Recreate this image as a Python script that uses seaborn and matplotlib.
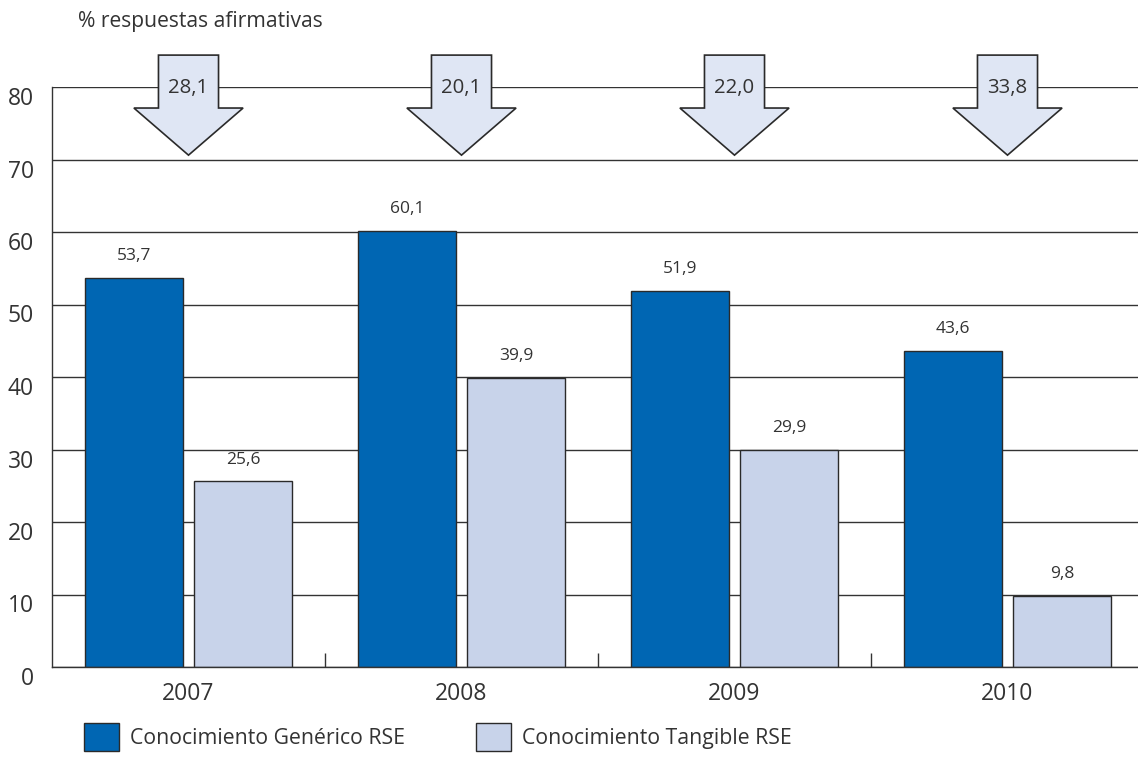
import pandas as pd
import matplotlib.pyplot as plt
from matplotlib.patches import Polygon
import seaborn as sns

# chart values
years = ['2007', '2008', '2009', '2010']
generico = [53.7, 60.1, 51.9, 43.6]
tangible = [25.6, 39.9, 29.9, 9.8]
brecha = [28.1, 20.1, 22.0, 33.8]
series = ['Conocimiento Genérico RSE', 'Conocimiento Tangible RSE']

data = pd.DataFrame({
    'year': years * 2,
    'serie': [series[0]] * 4 + [series[1]] * 4,
    'valor': generico + tangible,
})

sns.set_style('white')
plt.rcParams['font.family'] = ['Open Sans', 'DejaVu Sans']
plt.rcParams['text.color'] = '#333333'

fig = plt.figure(figsize=(11.38, 7.58), dpi=100)
ax = fig.add_axes([52 / 1138, 1 - 667 / 758, 1092 / 1138, 580 / 758])

sns.barplot(data=data, x='year', y='valor', hue='serie',
            palette=['#0066b3', '#c8d3ea'], saturation=1, width=0.8, gap=0.1,
            edgecolor='#2a2a2a', linewidth=1, ax=ax, legend=True)

ax.set_ylim(0, 80)
ax.set_xlim(-0.5, 3.5)
ax.set_yticks(range(0, 81, 10))
ax.yaxis.grid(True, color='#333333', lw=1)
ax.set_axisbelow(True)
ax.set_xlabel('')
ax.set_ylabel('')

for s in ['top', 'right']:
    ax.spines[s].set_visible(False)
for s in ['left', 'bottom']:
    ax.spines[s].set_color('#333333')
    ax.spines[s].set_linewidth(1)

ax.tick_params(axis='x', length=0, labelsize=16.5, pad=11, labelcolor='#333333')
ax.tick_params(axis='y', length=0, labelsize=16.5, pad=13, labelcolor='#333333')
for lab in ax.get_yticklabels():
    lab.set_verticalalignment('top')
ax.set_xticks([0.5, 1.5, 2.5], minor=True)
ax.tick_params(axis='x', which='minor', bottom=True, direction='in', length=10,
               width=1, color='#333333')

# value labels
for i in range(len(years)):
    for off, v in ((-0.2, generico[i]), (0.2, tangible[i])):
        ax.annotate(f'{v:.1f}'.replace('.', ','), (i + off, v), xytext=(0, 10),
                    textcoords='offset points', ha='center', va='bottom',
                    fontsize=12.5, color='#333333')

# arrows with the gap
for i, b in enumerate(brecha):
    pts = [(i - 0.11, 84.4), (i + 0.11, 84.4), (i + 0.11, 77.1), (i + 0.2, 77.1),
           (i, 70.6), (i - 0.2, 77.1), (i - 0.11, 77.1)]
    ax.add_patch(Polygon(pts, closed=True, facecolor='#dfe6f4', edgecolor='#2a2a2a',
                         lw=1.2, clip_on=False, zorder=5))
    ax.text(i, 79.8, f'{b:.1f}'.replace('.', ','), ha='center', va='center',
            fontsize=14.7, color='#333333', zorder=6)

fig.text(78 / 1138, 1 - 22 / 758, '% respuestas afirmativas', ha='left', va='center',
         fontsize=15.2, color='#333333')

handles, labels = ax.get_legend_handles_labels()
ax.get_legend().remove()
fig.legend(handles, labels, ncol=2, loc='lower left', bbox_to_anchor=(0.0605, -0.011),
           frameon=False, fontsize=15.3, handlelength=1.65, handleheight=1.65,
           handletextpad=0.55, columnspacing=3.3, borderpad=0.2)

fig.savefig('out.png', dpi=100)
